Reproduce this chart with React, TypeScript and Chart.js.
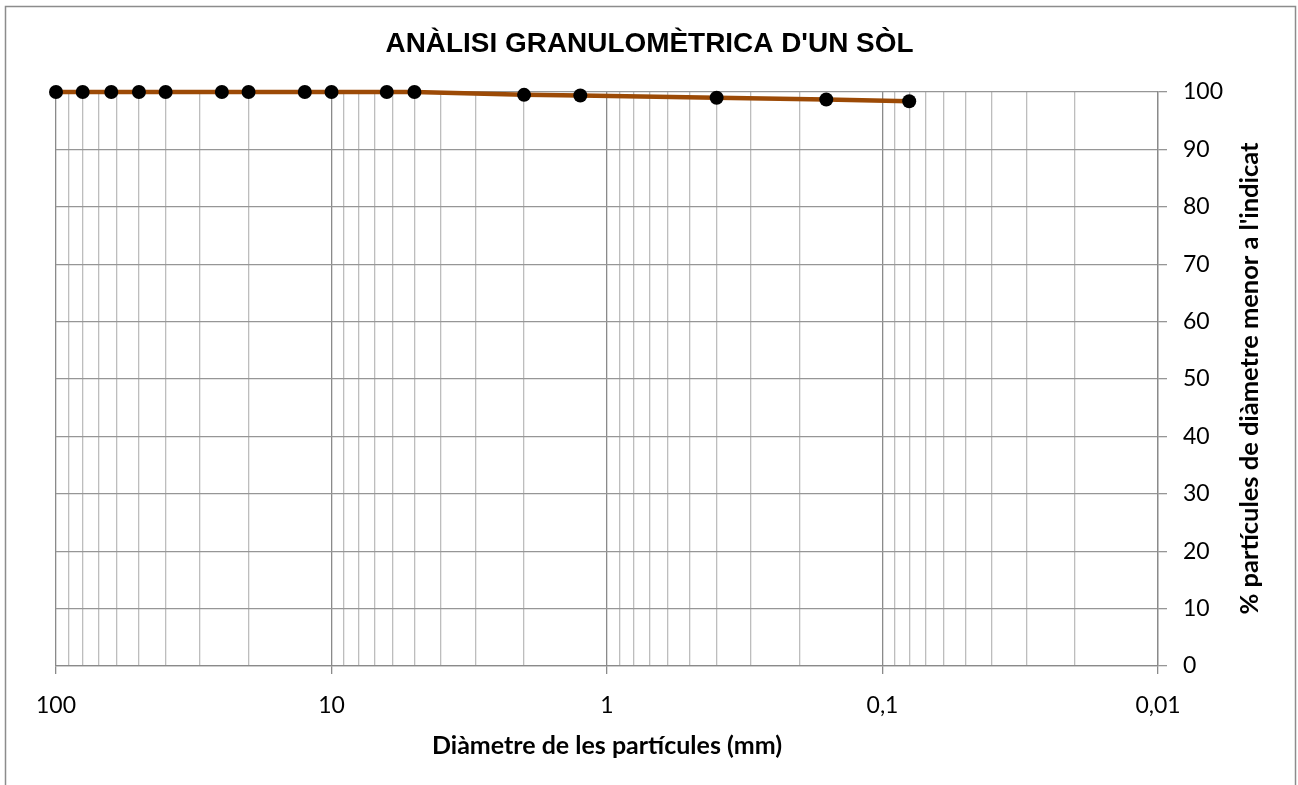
import React, { useEffect, useRef } from "react";
import { Chart, registerables } from "chart.js";

Chart.register(...registerables);

// Sieve openings (mm) and cumulative % passing
const diameters = [100, 80, 63, 50, 40, 25, 20, 12.5, 10, 6.3, 5, 2, 1.25, 0.4, 0.16, 0.08];
const passing = [100, 100, 100, 100, 100, 100, 100, 100, 100, 100, 100, 99.5, 99.4, 99.0, 98.7, 98.4];

const decadeLabels = ["100", "10", "1", "0,1", "0,01"];
const decadeValues = [100, 10, 1, 0.1, 0.01];
const yTicks = [0, 10, 20, 30, 40, 50, 60, 70, 80, 90, 100];

const chartTitle = "ANÀLISI GRANULOMÈTRICA D'UN SÒL";
const xTitle = "Diàmetre de les partícules (mm)";
const yTitle = "% partícules de diàmetre menor a l'indicat";

const W = 1298;
const H = 785;

function isDecade(v: number) {
  return decadeValues.some((d) => Math.abs(v - d) / d < 1e-6);
}

function fittedText(
  ctx: CanvasRenderingContext2D,
  text: string,
  font: string,
  width: number,
  x: number,
  y: number,
  rotate = 0
) {
  ctx.save();
  ctx.font = font;
  const m = ctx.measureText(text).width;
  ctx.translate(x, y);
  if (rotate) ctx.rotate(rotate);
  ctx.scale(width / m, 1);
  ctx.textAlign = "center";
  ctx.textBaseline = "alphabetic";
  ctx.fillStyle = "#000";
  ctx.fillText(text, 0, 0);
  ctx.restore();
}

const decorations = {
  id: "decorations",
  beforeDraw(chart: Chart) {
    const ctx = chart.ctx;
    ctx.save();
    ctx.fillStyle = "#fff";
    ctx.fillRect(0, 0, W, H);
    ctx.strokeStyle = "#8c8c8c";
    ctx.lineWidth = 1.5;
    ctx.strokeRect(5.5, 6.5, 1290, 820);
    ctx.restore();
  },
  afterDraw(chart: Chart) {
    const ctx = chart.ctx;
    fittedText(ctx, chartTitle, 'bold 27px "Liberation Sans", Arial, sans-serif', 528, 649.5, 52);
    fittedText(ctx, xTitle, 'bold 25px Lato, "Noto Sans", sans-serif', 350, 607, 754);
    fittedText(ctx, yTitle, 'bold 25px Lato, "Noto Sans", sans-serif', 472, 1258, 378.5, -Math.PI / 2);
  },
};

export default function App() {
  const ref = useRef<HTMLCanvasElement | null>(null);

  useEffect(() => {
    if (!ref.current) return;
    const chart = new Chart(ref.current, {
      type: "line",
      data: {
        datasets: [
          {
            data: diameters.map((d, i) => ({ x: d, y: passing[i] })),
            borderColor: "#9c4a06",
            borderWidth: 4.5,
            pointRadius: 7,
            pointHoverRadius: 7,
            pointBackgroundColor: "#000",
            pointBorderWidth: 0,
            tension: 0,
            clip: false as any,
          },
        ],
      },
      plugins: [decorations],
      options: {
        animation: false,
        responsive: false,
        devicePixelRatio: 1,
        events: [],
        layout: { padding: { left: 56, top: 92, right: 0, bottom: 0 } },
        plugins: {
          legend: { display: false },
          tooltip: { enabled: false },
          title: { display: false },
        },
        scales: {
          x: {
            type: "logarithmic",
            min: 0.01,
            max: 100,
            reverse: true,
            afterFit(scale: any) {
              scale.height = H - 666;
            },
            afterBuildTicks(scale: any) {
              const ticks: { value: number }[] = [];
              for (let e = -2; e <= 1; e++) {
                for (let m = 1; m <= 9; m++) {
                  ticks.push({ value: parseFloat((m * Math.pow(10, e)).toPrecision(6)) });
                }
              }
              ticks.push({ value: 100 });
              scale.ticks = ticks;
            },
            ticks: {
              autoSkip: false,
              maxRotation: 0,
              padding: 18,
              color: "#000",
              font: { family: "Lato, 'Noto Sans', sans-serif", size: 23 },
              callback(value: any) {
                const v = Number(value);
                const i = decadeValues.findIndex((d) => Math.abs(v - d) / d < 1e-6);
                return i >= 0 ? decadeLabels[i] : "";
              },
            },
            grid: {
              lineWidth: 1.3,
              tickLength: 8,
              color: (c: any) => (c.tick && isDecade(c.tick.value) ? "#8a8a8a" : "#bdbdbd"),
              tickColor: (c: any) => (c.tick && isDecade(c.tick.value) ? "#8a8a8a" : "rgba(0,0,0,0)"),
            },
            border: { display: true, color: "#8a8a8a", width: 1.3 },
          },
          y: {
            type: "linear",
            position: "right",
            min: 0,
            max: 100,
            afterFit(scale: any) {
              scale.width = W - 1158;
            },
            afterBuildTicks(scale: any) {
              scale.ticks = yTicks.map((v) => ({ value: v }));
            },
            ticks: {
              padding: 16,
              color: "#000",
              font: { family: "Lato, 'Noto Sans', sans-serif", size: 23 },
            },
            grid: {
              lineWidth: 1.3,
              tickLength: 9,
              color: "#969696",
              tickColor: "#969696",
            },
            border: { display: true, color: "#8a8a8a", width: 1.3 },
          },
        },
      } as any,
    });
    return () => chart.destroy();
  }, []);

  return (
    <div style={{ position: "absolute", left: 0, top: 0, width: W, height: H, background: "#fff" }}>
      <canvas ref={ref} width={W} height={H} style={{ display: "block", width: W, height: H }} />
    </div>
  );
}
